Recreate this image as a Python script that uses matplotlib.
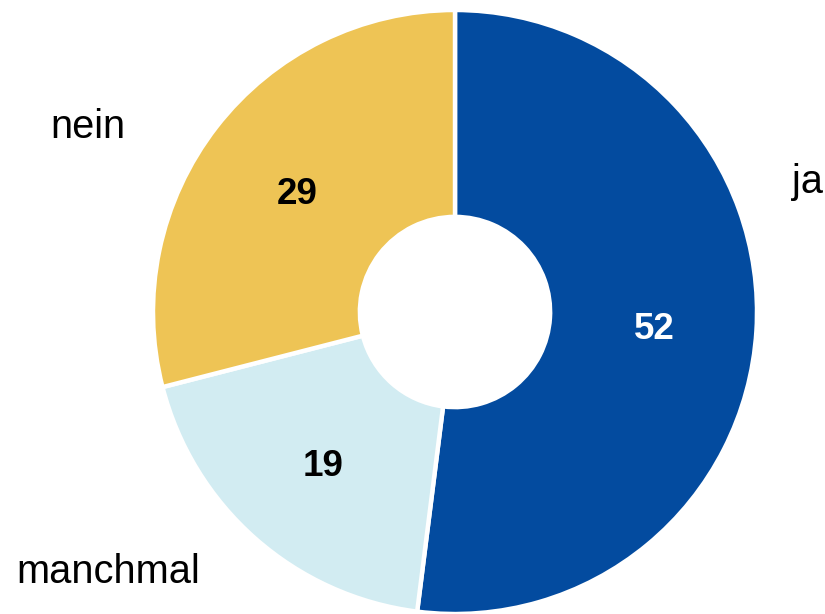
import matplotlib as mpl
mpl.use("Agg")
import matplotlib.pyplot as plt

labels = ["ja", "manchmal", "nein"]
values = [52, 19, 29]
colors = ["#034B9F", "#D2ECF2", "#EEC455"]
num_colors = ["white", "black", "black"]

plt.rcParams["font.family"] = ["Liberation Sans", "DejaVu Sans"]

fig = plt.figure(figsize=(8.25, 6.14), dpi=100)
ax = fig.add_axes([0, 0, 1, 1])

wedges, _, autotexts = ax.pie(
    values, colors=colors, startangle=90, counterclock=False,
    radius=1.0, pctdistance=0.66,
    autopct=lambda p: f"{p:.0f}",
    wedgeprops=dict(width=0.685, edgecolor="white", linewidth=3.2),
)
for t, c in zip(autotexts, num_colors):
    t.set_color(c)
    t.set_fontsize(26.5)
    t.set_fontweight("bold")
    x, y = t.get_position()
    t.set_position((x, y - 5 / 302))  # nudge down a touch

# category labels outside the ring
label_pos = {"ja": (1.166, 0.394), "nein": (-1.214, 0.576), "manchmal": (-1.147, -0.897)}
for lab in labels:
    x, y = label_pos[lab]
    ax.text(x, y, lab, ha="center", va="baseline", fontsize=28.6, color="black")

ax.set_xlim(-455 / 302, (825 - 455) / 302)
ax.set_ylim(-(614 - 312) / 302, 312 / 302)
ax.set_aspect("auto")
ax.axis("off")

fig.savefig("out.png", dpi=100)
